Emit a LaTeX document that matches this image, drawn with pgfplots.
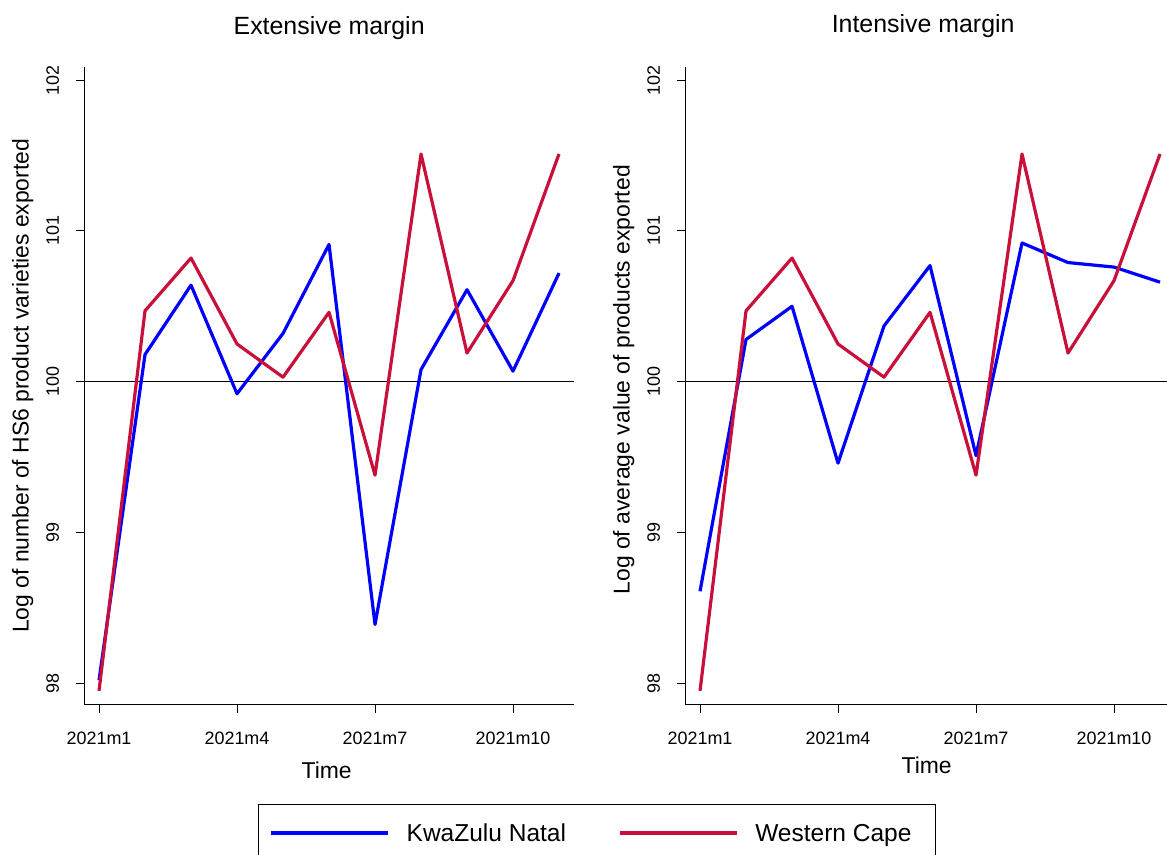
\documentclass[border=0pt]{standalone}
\usepackage{pgfplots}
\pgfplotsset{compat=1.18}
\usepackage{fontspec}
\setmainfont{Liberation Sans}
\definecolor{kzn}{RGB}{0,0,255}
\definecolor{wc}{RGB}{200,16,58}

\pgfplotsset{
  panel/.style={
    scale only axis, width=489.7bp, height=638.3bp,
    xmin=0.68, xmax=11.326, ymin=97.856, ymax=102.089,
    axis x line=bottom, axis y line=left,
    axis line style={-, black, line width=1bp},
    xtick={1,4,7,10}, xticklabels={2021m1,2021m4,2021m7,2021m10},
    ytick={98,99,100,101,102},
    tick align=outside, major tick length=8bp,
    tick style={black, line width=1bp},
    /pgf/number format/assume math mode=true,
    ticklabel style={font=\fontsize{18}{20}\selectfont},
    xticklabel style={anchor=base, yshift=-31.7bp},
    yticklabel style={xshift=-17.5bp, rotate=90, anchor=base},
    every axis title/.style={at={(axis description cs:0.5,1)}, anchor=base, yshift=32bp, font=\fontsize{25}{27}\selectfont},
    every axis x label/.style={at={(axis description cs:0.5,0)}, anchor=base, yshift=-73.3bp, xshift=-2.5bp, font=\fontsize{23}{25}\selectfont},
    every axis y label/.style={at={(axis description cs:0,0.5)}, xshift=-55.7bp, rotate=90, anchor=base, font=\fontsize{23}{25}\selectfont},
    legend image code/.code={\draw[##1] (0bp,8.8bp) -- (117bp,8.8bp); \path (0bp,-24bp);},
  },
  kzl/.style={kzn, line width=3.2bp, line join=round},
  wcl/.style={wc, line width=3.2bp, line join=round},
}
\newcommand{\lstrut}{\rule{0pt}{37.3bp}}

\begin{document}
\begin{tikzpicture}[x=1bp,y=1bp]
\useasboundingbox (0,0) rectangle (1167,855);

\begin{axis}[panel, at={(84.3bp,150bp)}, anchor=south west,
  title={Extensive margin},
  xlabel={Time},
  ylabel={Log of number of HS6 product varieties exported},
  legend columns=2,
  legend style={at={(0.3547,-0.1551)}, anchor=north west, draw=black, line width=1bp,
    inner xsep=11bp, inner ysep=0pt,
    font=\fontsize{24.6}{26}\selectfont,
    nodes={inner sep=0pt},
    cells={anchor=base west},
    /tikz/every odd column/.append style={column sep=17bp},
    /tikz/every even column/.append style={column sep=52bp}},
]
\addplot[black, line width=0.9bp, forget plot] coordinates {(0.68,100) (11.326,100)};
\addplot[kzl] coordinates {
(1,98.02) (2,100.18) (3,100.64) (4,99.92) (5,100.32) (6,100.91)
(7,98.39) (8,100.08) (9,100.61) (10,100.07) (11,100.72)};
\addlegendentry{\lstrut KwaZulu Natal}
\addplot[wcl] coordinates {
(1,97.95) (2,100.47) (3,100.82) (4,100.25) (5,100.03) (6,100.46)
(7,99.38) (8,101.51) (9,100.19) (10,100.67) (11,101.51)};
\addlegendentry{\lstrut Western Cape\hspace*{13bp}}
\end{axis}

\begin{axis}[panel, at={(685.3bp,150bp)}, anchor=south west,
  title={Intensive margin},
  title style={yshift=2bp, xshift=-7bp},
  xlabel={Time},
  xlabel style={yshift=5bp, xshift=-1bp},
  ylabel={Log of average value of products exported},
  ylabel style={xshift=6.1bp},
]
\addplot[black, line width=0.9bp, forget plot] coordinates {(0.68,100) (11.326,100)};
\addplot[kzl] coordinates {
(1,98.61) (2,100.28) (3,100.50) (4,99.46) (5,100.37) (6,100.77)
(7,99.51) (8,100.92) (9,100.79) (10,100.76) (11,100.66)};
\addplot[wcl] coordinates {
(1,97.95) (2,100.47) (3,100.82) (4,100.25) (5,100.03) (6,100.46)
(7,99.38) (8,101.51) (9,100.19) (10,100.67) (11,101.51)};
\end{axis}
\end{tikzpicture}
\end{document}
